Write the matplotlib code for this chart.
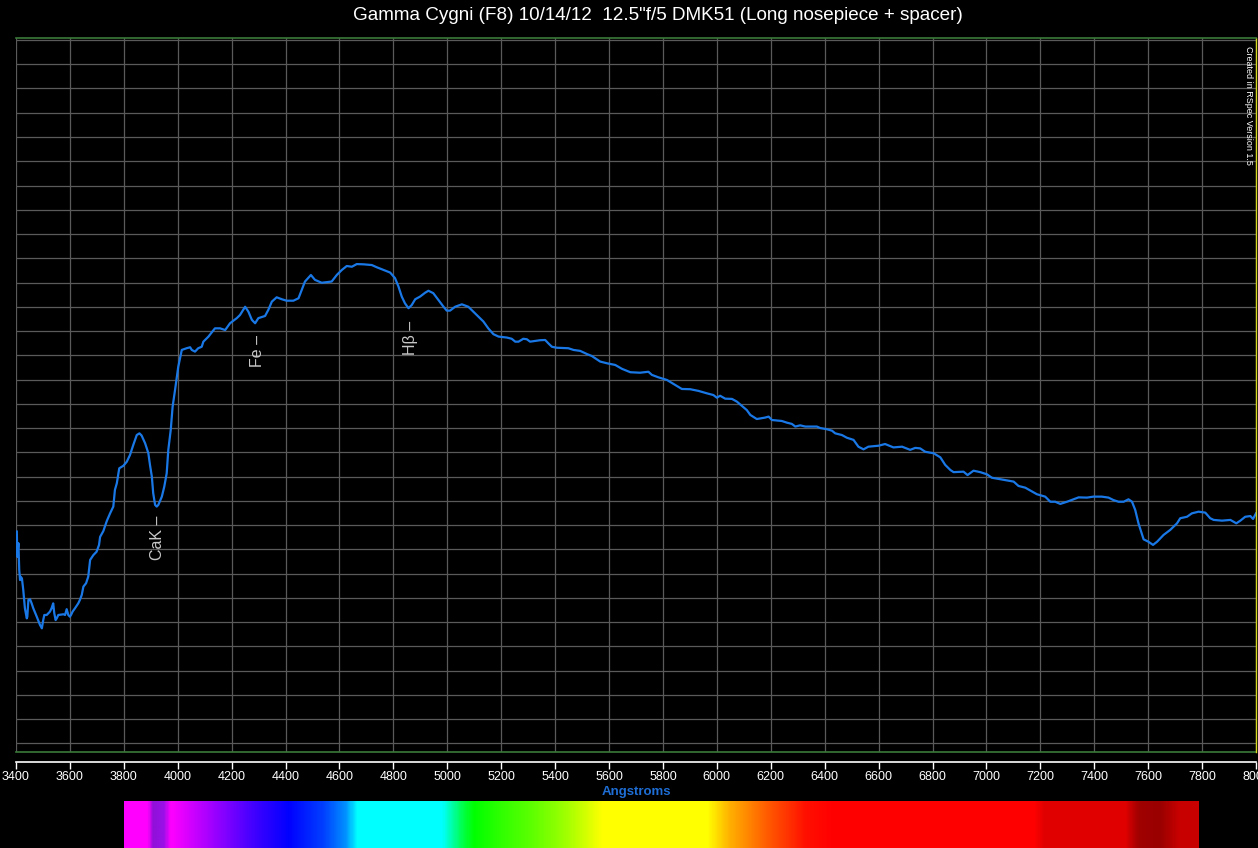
import matplotlib
matplotlib.use("Agg")
import matplotlib.pyplot as plt
import numpy as np
from matplotlib.colors import LinearSegmentedColormap

# ---------------- data ----------------
wavelength = [3403, 3405, 3409, 3412, 3415, 3417, 3422, 3427, 3433, 3440, 3442, 3446, 3452, 3458, 3464,
              3477, 3489, 3496, 3501, 3505, 3514, 3520, 3526, 3532, 3538, 3542, 3547, 3551, 3557, 3576,
              3582, 3588, 3594, 3600, 3604, 3610, 3619, 3631, 3637, 3644, 3650, 3660, 3668, 3675, 3687,
              3699, 3708, 3712, 3724, 3737, 3749, 3761, 3767, 3774, 3783, 3798, 3811, 3823, 3835, 3848,
              3858, 3866, 3879, 3891, 3897, 3904, 3909, 3916, 3922, 3928, 3941, 3950, 3959, 3965, 3974,
              3981, 3990, 4002, 4015, 4033, 4046, 4052, 4064, 4076, 4089, 4095, 4114, 4138, 4157, 4176,
              4194, 4219, 4231, 4250, 4262, 4275, 4287, 4299, 4324, 4336, 4349, 4367, 4386, 4404, 4429,
              4448, 4460, 4472, 4494, 4509, 4534, 4571, 4590, 4609, 4627, 4646, 4664, 4689, 4720, 4738,
              4763, 4788, 4806, 4819, 4831, 4843, 4856, 4868, 4881, 4899, 4918, 4930, 4948, 4967, 4986,
              4998, 5010, 5029, 5054, 5078, 5103, 5134, 5152, 5171, 5190, 5221, 5239, 5252, 5264, 5282,
              5295, 5307, 5326, 5344, 5363, 5375, 5388, 5406, 5449, 5468, 5493, 5518, 5536, 5567, 5592,
              5623, 5648, 5679, 5715, 5746, 5759, 5783, 5815, 5845, 5870, 5901, 5932, 5963, 5987, 6000,
              6012, 6031, 6056, 6074, 6093, 6111, 6124, 6148, 6179, 6192, 6204, 6241, 6260, 6278, 6291,
              6309, 6328, 6371, 6383, 6408, 6427, 6439, 6464, 6482, 6507, 6525, 6544, 6562, 6600, 6624,
              6655, 6687, 6717, 6736, 6754, 6773, 6804, 6829, 6847, 6866, 6878, 6915, 6930, 6952, 6977,
              7002, 7020, 7051, 7101, 7119, 7144, 7163, 7187, 7218, 7237, 7255, 7274, 7299, 7323, 7342,
              7373, 7397, 7428, 7453, 7471, 7490, 7509, 7527, 7540, 7552, 7564, 7583, 7601, 7618, 7633,
              7645, 7657, 7682, 7707, 7719, 7744, 7762, 7787, 7812, 7830, 7843, 7874, 7905, 7927, 7942,
              7960, 7979, 7989, 8000]

intensity = [8.73, 7.69, 8.25, 7.15, 6.73, 6.87, 6.80, 6.32, 5.57, 5.15, 5.22, 5.91, 5.94, 5.77, 5.57,
             5.22, 4.88, 4.74, 5.08, 5.29, 5.29, 5.36, 5.43, 5.57, 5.77, 5.36, 5.08, 5.15, 5.29, 5.32,
             5.29, 5.53, 5.29, 5.22, 5.29, 5.43, 5.57, 5.77, 5.91, 6.12, 6.46, 6.60, 6.87, 7.56, 7.76,
             7.90, 8.18, 8.51, 8.75, 9.17, 9.48, 9.76, 10.45, 10.72, 11.34, 11.44, 11.61, 11.89, 12.30, 12.71,
             12.78, 12.69, 12.37, 11.96, 11.48, 10.99, 10.31, 9.83, 9.76, 9.83, 10.17, 10.58, 11.13, 12.10, 12.92,
             13.88, 14.57, 15.53, 16.22, 16.29, 16.33, 16.22, 16.15, 16.29, 16.35, 16.56, 16.77, 17.11, 17.11, 17.04,
             17.32, 17.53, 17.66, 18.00, 17.80, 17.46, 17.32, 17.53, 17.62, 17.87, 18.21, 18.39, 18.31, 18.25, 18.25,
             18.35, 18.69, 19.04, 19.31, 19.11, 18.99, 19.04, 19.31, 19.52, 19.68, 19.65, 19.76, 19.75, 19.72, 19.63,
             19.52, 19.41, 19.18, 18.83, 18.42, 18.14, 17.94, 18.07, 18.31, 18.42, 18.58, 18.66, 18.56, 18.28, 18.00,
             17.84, 17.84, 18.00, 18.10, 18.00, 17.73, 17.39, 17.11, 16.87, 16.77, 16.73, 16.68, 16.56, 16.56, 16.68,
             16.66, 16.56, 16.59, 16.62, 16.63, 16.49, 16.35, 16.31, 16.29, 16.22, 16.18, 16.05, 15.97, 15.74, 15.67,
             15.60, 15.44, 15.30, 15.28, 15.32, 15.19, 15.09, 14.98, 14.78, 14.61, 14.60, 14.53, 14.43, 14.36, 14.25,
             14.33, 14.21, 14.20, 14.09, 13.91, 13.74, 13.54, 13.37, 13.43, 13.47, 13.33, 13.29, 13.22, 13.17, 13.06,
             13.11, 13.06, 13.06, 13.00, 12.95, 12.89, 12.78, 12.71, 12.60, 12.51, 12.23, 12.12, 12.23, 12.27, 12.34,
             12.20, 12.23, 12.10, 12.18, 12.16, 12.02, 11.96, 11.79, 11.48, 11.27, 11.18, 11.20, 11.06, 11.24, 11.18,
             11.09, 10.95, 10.89, 10.79, 10.61, 10.54, 10.42, 10.27, 10.17, 9.96, 9.96, 9.87, 9.96, 10.06, 10.14,
             10.13, 10.17, 10.17, 10.13, 10.03, 9.96, 9.96, 10.06, 9.96, 9.62, 9.07, 8.41, 8.31, 8.18, 8.31,
             8.45, 8.59, 8.80, 9.07, 9.28, 9.34, 9.48, 9.55, 9.51, 9.28, 9.21, 9.18, 9.21, 9.07, 9.18,
             9.34, 9.37, 9.25, 9.48]

line_names = ["CaK –", "Fe –", "Hβ –"]
line_wavelengths = [3925, 4296, 4862]
line_label_y = [7.56, 15.53, 16.01]

x_ticks = list(range(3400, 8001, 200))
title = "Gamma Cygni (F8) 10/14/12  12.5\"f/5 DMK51 (Long nosepiece + spacer)"
xlabel = "Angstroms"
credit = "Created in RSpec Version 1.5"

# rainbow bar colour stops (wavelength, colour)
bar_wl = [3800, 3885, 3905, 3945, 3970, 4010, 4150, 4280, 4410, 4540, 4620, 4665, 4980, 5060, 5100,
          5200, 5320, 5440, 5575, 5965, 6050, 6180, 6330, 6430, 7180, 7220, 7520, 7570, 7650, 7720, 7790]
bar_colors = ["#ff00ff", "#ff00ff", "#9010d8", "#9a10e8", "#ff00ff", "#e800ff", "#9000ff", "#4000ff",
              "#0000ff", "#0040ff", "#0090ff", "#00ffff", "#00ffff", "#00ff40", "#00ff00", "#30ff00",
              "#60ff00", "#a0ff00", "#ffff00", "#ffff00", "#ffb000", "#ff6000", "#ff1000", "#ff0000",
              "#ff0000", "#e00000", "#e00000", "#a00000", "#9a0000", "#c80000", "#c80000"]

# ---------------- figure ----------------
W, H = 1258, 848
fig = plt.figure(figsize=(W / 100, H / 100), dpi=100, facecolor="black")

def px_box(x0, y0, x1, y1):
    return [x0 / W, 1 - y1 / H, (x1 - x0) / W, (y1 - y0) / H]

ax = fig.add_axes(px_box(16, 38.3, 1256, 752))
ax.set_facecolor("black")
ax.set_xlim(3400, 8000)
ax.set_ylim(-0.36, 29.07)
ax.set_yticks(np.arange(0, 30, 1))
ax.set_xticks(x_ticks)
ax.grid(True, color="#5a5a5a", linewidth=0.9)
ax.set_axisbelow(True)

ax.plot(wavelength, intensity, color="#1a78e6", linewidth=1.6, solid_joinstyle="round")

for name, wl, ly in zip(line_names, line_wavelengths, line_label_y):
    ax.text(wl, ly, name, rotation=90, ha="center", va="bottom", color="#c8c8c8",
            fontsize=11.5, family=["Liberation Sans", "DejaVu Sans"])

ax.spines["left"].set_visible(False)
ax.spines["top"].set_color("#3a7a3a")
ax.spines["top"].set_linewidth(1.2)
ax.spines["right"].set_color("#d8d820")
ax.spines["right"].set_linewidth(1.0)
ax.spines["bottom"].set_position(("outward", 7))
ax.spines["bottom"].set_color("white")
ax.spines["bottom"].set_linewidth(1.2)
ax.plot([0, 1], [0, 0], transform=ax.transAxes, color="#3a7a3a", linewidth=1.2, clip_on=False)

ax.tick_params(axis="y", left=False, labelleft=False)
ax.tick_params(axis="x", direction="out", length=5, width=1, color="white", labelcolor="white",
               labelsize=9, pad=1.5)
for lab in ax.get_xticklabels():
    lab.set_family(["Liberation Sans Narrow", "Liberation Sans", "DejaVu Sans"])

ax.set_xlabel(xlabel, color="#1e6ed6", fontsize=9.5, fontweight="bold",
              family=["Liberation Sans Narrow", "Liberation Sans", "DejaVu Sans"], labelpad=2)

fig.text(658 / W, 1 - 16 / H, title, color="white", fontsize=13.6, ha="center", va="center",
         family=["Liberation Sans", "DejaVu Sans"])
fig.text(1249 / W, 1 - 46 / H, credit, color="white", fontsize=6.5, rotation=270, ha="center", va="top",
         family=["Liberation Sans Narrow", "Liberation Sans", "DejaVu Sans"])

# rainbow bar
bax = fig.add_axes(px_box(123.7, 800.7, 1198.5, 848))
bax.set_axis_off()
pos = [(w - bar_wl[0]) / (bar_wl[-1] - bar_wl[0]) for w in bar_wl]
cmap = LinearSegmentedColormap.from_list("spec", list(zip(pos, bar_colors)), N=1024)
grad = np.linspace(bar_wl[0], bar_wl[-1], 1200)[None, :]
bax.imshow(grad, aspect="auto", cmap=cmap, extent=[bar_wl[0], bar_wl[-1], 0, 1],
           vmin=bar_wl[0], vmax=bar_wl[-1], interpolation="bilinear")
bax.set_xlim(bar_wl[0], bar_wl[-1])

fig.savefig("out.png", dpi=100, facecolor="black")
